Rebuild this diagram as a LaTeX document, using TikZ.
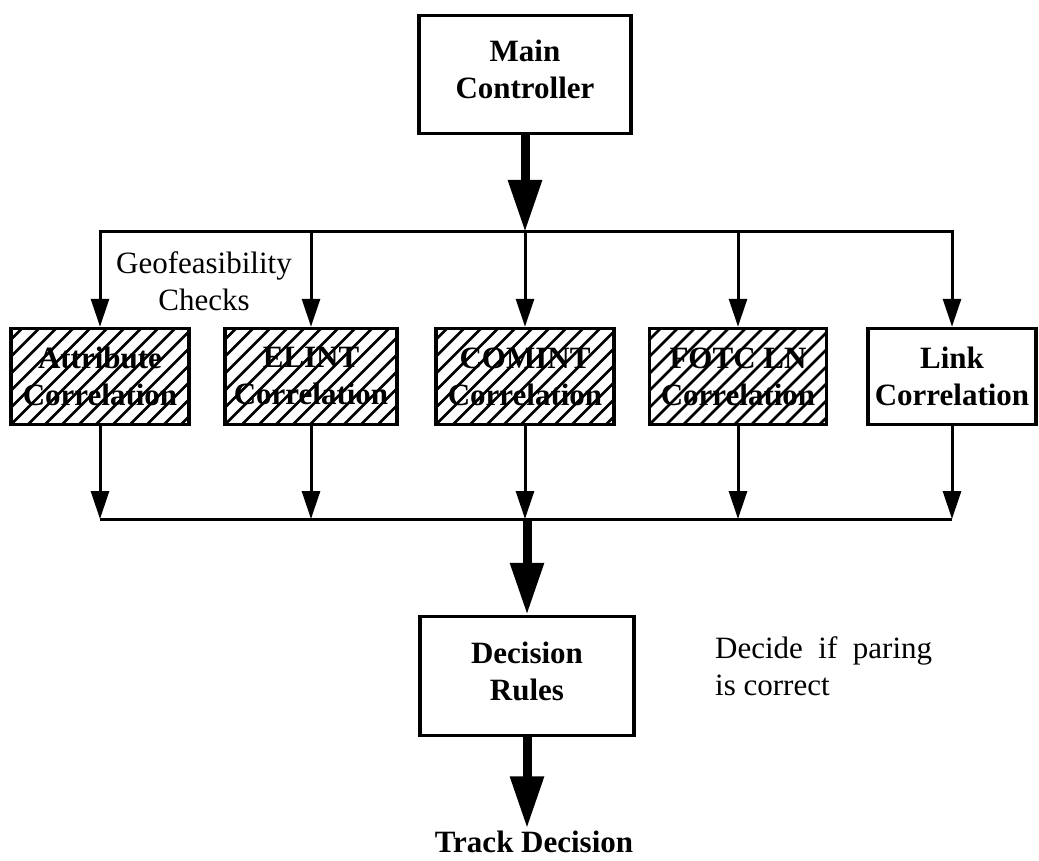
\documentclass[tikz,border=0pt]{standalone}
\usepackage{fontspec}
\setmainfont{Liberation Serif}
\usetikzlibrary{arrows.meta}

\begin{document}
\begin{tikzpicture}[x=1pt,y=-1pt,
  nodes={font=\fontsize{31}{37}\selectfont,align=center,inner sep=0pt},
  box/.style={draw,line width=3.5pt,font=\fontsize{31}{37}\selectfont\bfseries,minimum height=96pt},
  hatch/.style={path picture={\foreach \k in {-7,...,11} \draw[line width=2.6pt] ([xshift=\k*17pt]path picture bounding box.south west) -- ++(130pt,130pt);}},
  arr/.style={line width=3pt,-{Triangle[width=18pt,length=28pt]}},
  bigarr/.style={line width=9pt,-{Triangle[width=32pt,length=52pt]}}]

      \useasboundingbox (0,0) rectangle (1039,861);

      \node[box,minimum width=212pt,minimum height=118pt] (1) at (525,74.5) {Main\\Controller\rule[-10pt]{0pt}{0pt}};
      \node[box,hatch,minimum width=178pt] (2) at (100,376.5) {Attribute\\Correlation};
      \node[box,hatch,minimum width=172pt] (3) at (311,376.5) {ELINT\\Correlation};
      \node[box,hatch,minimum width=178pt] (4) at (525,376.5) {COMINT\\Correlation};
      \node[box,hatch,minimum width=177pt] (5) at (738,376.5) {FOTC LN\\Correlation};
      \node[box,minimum width=168pt] (6) at (952,376.5) {Link\\Correlation};
      \node[box,minimum width=214pt,minimum height=119pt] (7) at (527,676) {Decision\\Rules\rule[-10pt]{0pt}{0pt}};
      \node[anchor=base,inner sep=2pt,font=\fontsize{31}{37}\selectfont\bfseries] (8) at (534,852) {Track Decision};

      \node (g) at (204,281) {Geofeasibility\\Checks};
      \node[anchor=north west,align=left] (d) at (715,636) {Decide\ \ if\ \ paring\\is correct};

      \coordinate (t) at (525,232);
      \coordinate (b) at (527,519);

      \draw[bigarr] (1) -- (t);
      \draw[arr] (t) -| (2);
      \draw[arr] (t) -| (3);
      \draw[arr] (t) -- (4);
      \draw[arr] (t) -| (5);
      \draw[arr] (t) -| (6);

      \draw[line width=3pt] (2 |- b) -- (6 |- b);
      \draw[arr] (2) -- (2 |- b);
      \draw[arr] (3) -- (3 |- b);
      \draw[arr] (4) -- (4 |- b);
      \draw[arr] (5) -- (5 |- b);
      \draw[arr] (6) -- (6 |- b);

      \draw[bigarr] (b) -- (7);
      \draw[bigarr] (7) -- (7 |- 8.north);

    \end{tikzpicture}
\end{document}
